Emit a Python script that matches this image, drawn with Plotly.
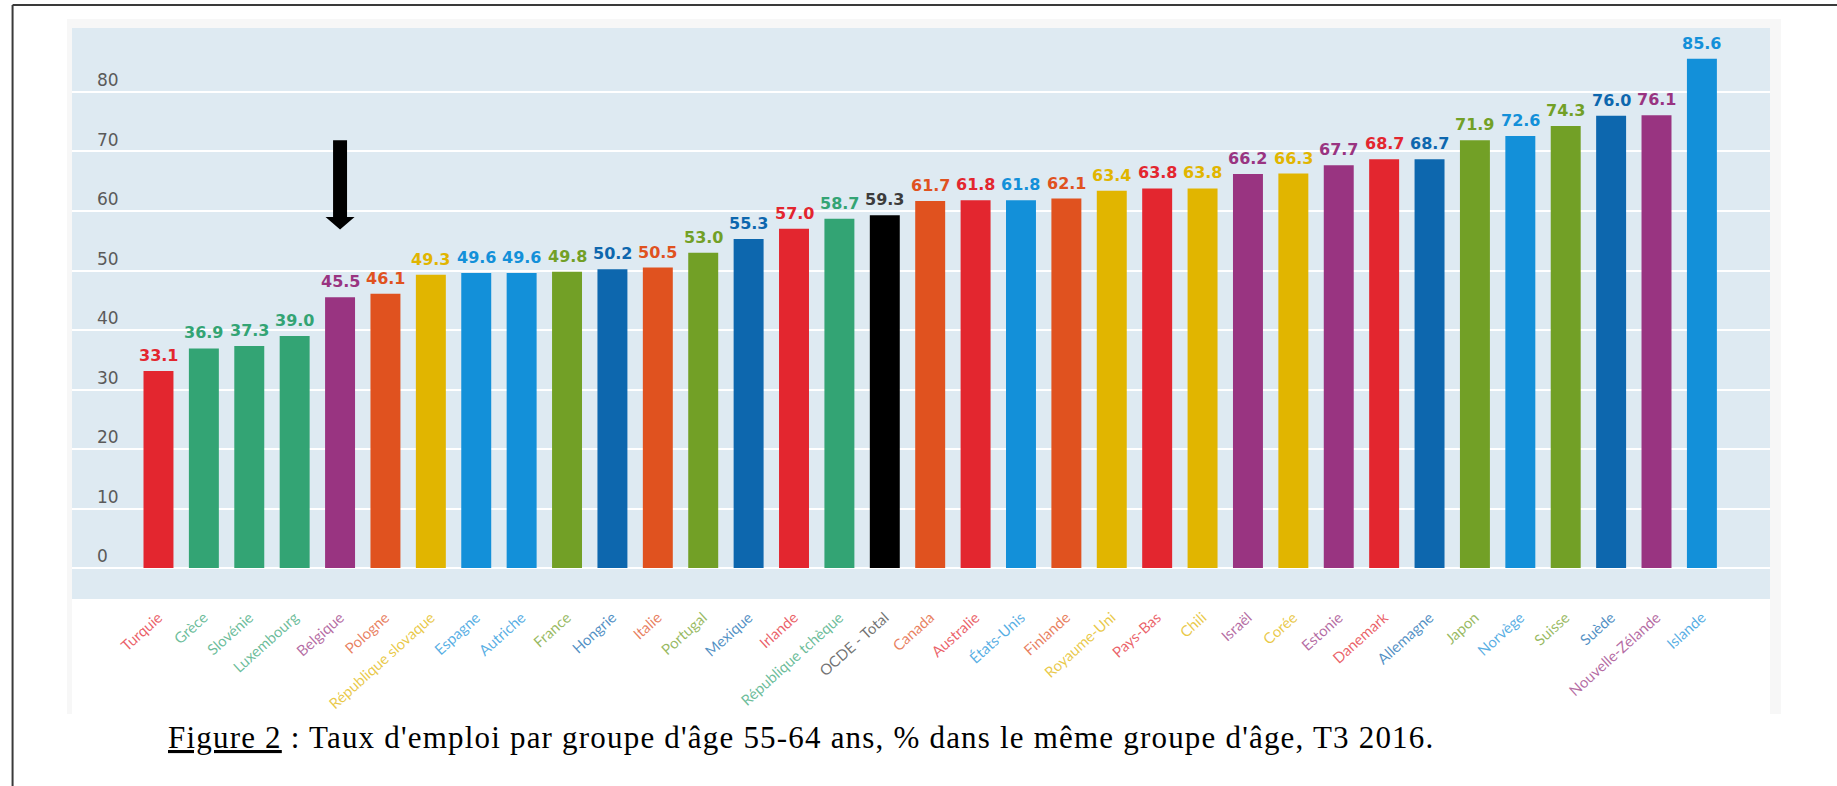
import plotly.graph_objects as go

# Taux d'emploi 55-64 ans, T3 2016 (% du groupe d'âge)
countries = [
    "Turquie", "Grèce", "Slovénie", "Luxembourg", "Belgique", "Pologne",
    "République slovaque", "Espagne", "Autriche", "France", "Hongrie", "Italie",
    "Portugal", "Mexique", "Irlande", "République tchèque", "OCDE - Total",
    "Canada", "Australie", "États-Unis", "Finlande", "Royaume-Uni", "Pays-Bas",
    "Chili", "Israël", "Corée", "Estonie", "Danemark", "Allemagne", "Japon",
    "Norvège", "Suisse", "Suède", "Nouvelle-Zélande", "Islande",
]
rates = [
    33.1, 36.9, 37.3, 39.0, 45.5, 46.1,
    49.3, 49.6, 49.6, 49.8, 50.2, 50.5,
    53.0, 55.3, 57.0, 58.7, 59.3,
    61.7, 61.8, 61.8, 62.1, 63.4, 63.8,
    63.8, 66.2, 66.3, 67.7, 68.7, 68.7, 71.9,
    72.6, 74.3, 76.0, 76.1, 85.6,
]
y_ticks = [0, 10, 20, 30, 40, 50, 60, 70, 80]
highlighted = "Belgique"

RED = "#E3262F"
GREEN = "#33A474"
PURPLE = "#993481"
ORANGE = "#E0521F"
YELLOW = "#E1B500"
BLUE = "#1390D9"
DARKBLUE = "#0D67AE"
OLIVE = "#72A026"
BLACK = "#000000"

bar_colors = [
    RED, GREEN, GREEN, GREEN, PURPLE, ORANGE,
    YELLOW, BLUE, BLUE, OLIVE, DARKBLUE, ORANGE,
    OLIVE, DARKBLUE, RED, GREEN, BLACK,
    ORANGE, RED, BLUE, ORANGE, YELLOW, RED,
    YELLOW, PURPLE, YELLOW, PURPLE, RED, DARKBLUE, OLIVE,
    BLUE, OLIVE, DARKBLUE, PURPLE, BLUE,
]


def hex_rgba(h, a):
    h = h.lstrip("#")
    r, g, b = int(h[0:2], 16), int(h[2:4], 16), int(h[4:6], 16)
    return f"rgba({r},{g},{b},{a})"


def label_color(c):
    return "#3C3C3C" if c == BLACK else c


xs = list(range(len(countries)))

fig = go.Figure()
fig.add_trace(go.Bar(
    x=xs, y=rates, width=0.66,
    marker=dict(color=bar_colors, line=dict(width=0)),
    hoverinfo="x+y", showlegend=False,
))

# value labels above each bar
for x, v, c in zip(xs, rates, bar_colors):
    fig.add_annotation(
        x=x, y=v, xref="x", yref="y", text=f"<b>{v:.1f}</b>",
        showarrow=False, yanchor="bottom", yshift=4,
        font=dict(family="DejaVu Sans", size=16, color=label_color(c)),
    )

# colored, faded category labels
tick_text = [
    f'<span style="color:{hex_rgba(label_color(c), 0.72)}">{n}</span>'
    for n, c in zip(countries, bar_colors)
]

# black arrow pointing to the highlighted country
ax = countries.index(highlighted)
ARROW_TOP, ARROW_BASE, ARROW_TIP = 71.9, 59.0, 56.9
SHAFT, HEAD = 0.154, 0.32
arrow_path = (
    f"M {ax - SHAFT},{ARROW_TOP} L {ax + SHAFT},{ARROW_TOP} "
    f"L {ax + SHAFT},{ARROW_BASE} L {ax + HEAD},{ARROW_BASE} "
    f"L {ax},{ARROW_TIP} L {ax - HEAD},{ARROW_BASE} "
    f"L {ax - SHAFT},{ARROW_BASE} Z"
)
fig.add_shape(type="path", path=arrow_path, xref="x", yref="y",
              fillcolor="black", line=dict(width=0), layer="above")

# light frame around the chart
fig.add_shape(type="rect", xref="paper", yref="paper",
              x0=-0.0029, x1=1.0065, y0=-0.2014, y1=1.0158,
              fillcolor="#F7F7F7", line=dict(width=0), layer="below")
# white strip holding the category labels
fig.add_shape(type="rect", xref="paper", yref="paper",
              x0=0, x1=1, y0=-0.2014, y1=0,
              fillcolor="white", line=dict(width=0), layer="below")
# plotting area background
fig.add_shape(type="rect", xref="paper", yref="paper",
              x0=0, x1=1, y0=0, y1=1,
              fillcolor="#DEEAF2", line=dict(width=0), layer="below")

# page frame lines (top and left)
fig.add_shape(type="line", xref="paper", yref="paper",
              x0=-0.0350, x1=1.05, y0=1.0403, y1=1.0403,
              line=dict(color="#3A3A3A", width=2))
fig.add_shape(type="line", xref="paper", yref="paper",
              x0=-0.0350, x1=-0.0350, y0=-0.40, y1=1.0403,
              line=dict(color="#3A3A3A", width=2))

# figure caption
fig.add_annotation(
    xref="paper", yref="paper", x=0.0554, y=-0.2417,
    xanchor="left", yanchor="middle", showarrow=False,
    text='<span style="letter-spacing:1.2px"><u>Figure 2</u> : Taux d\'emploi '
         "par groupe d'âge 55-64 ans, % dans le même groupe d'âge, T3 2016.</span>",
    font=dict(family="Liberation Serif", size=31, color="black"),
)

fig.update_layout(
    width=1837, height=786,
    margin=dict(l=72, r=67, t=28, b=187),
    paper_bgcolor="white",
    plot_bgcolor="#DEEAF2",
    xaxis=dict(
        range=[-1.905, 35.5], tickmode="array", tickvals=xs, ticktext=tick_text,
        tickangle=-42, showgrid=False, zeroline=False, ticks="",
        ticklabelstandoff=6,
        tickfont=dict(family="Lato", size=15),
    ),
    yaxis=dict(
        range=[-5.2, 90.75], tickmode="array", tickvals=y_ticks,
        showgrid=True, gridcolor="white", gridwidth=1.5, zeroline=False,
        ticklabelposition="inside top", ticklabelstandoff=22,
        tickfont=dict(family="DejaVu Sans", size=17, color="#5A5A5A"),
    ),
)

fig.write_html("out.html")
